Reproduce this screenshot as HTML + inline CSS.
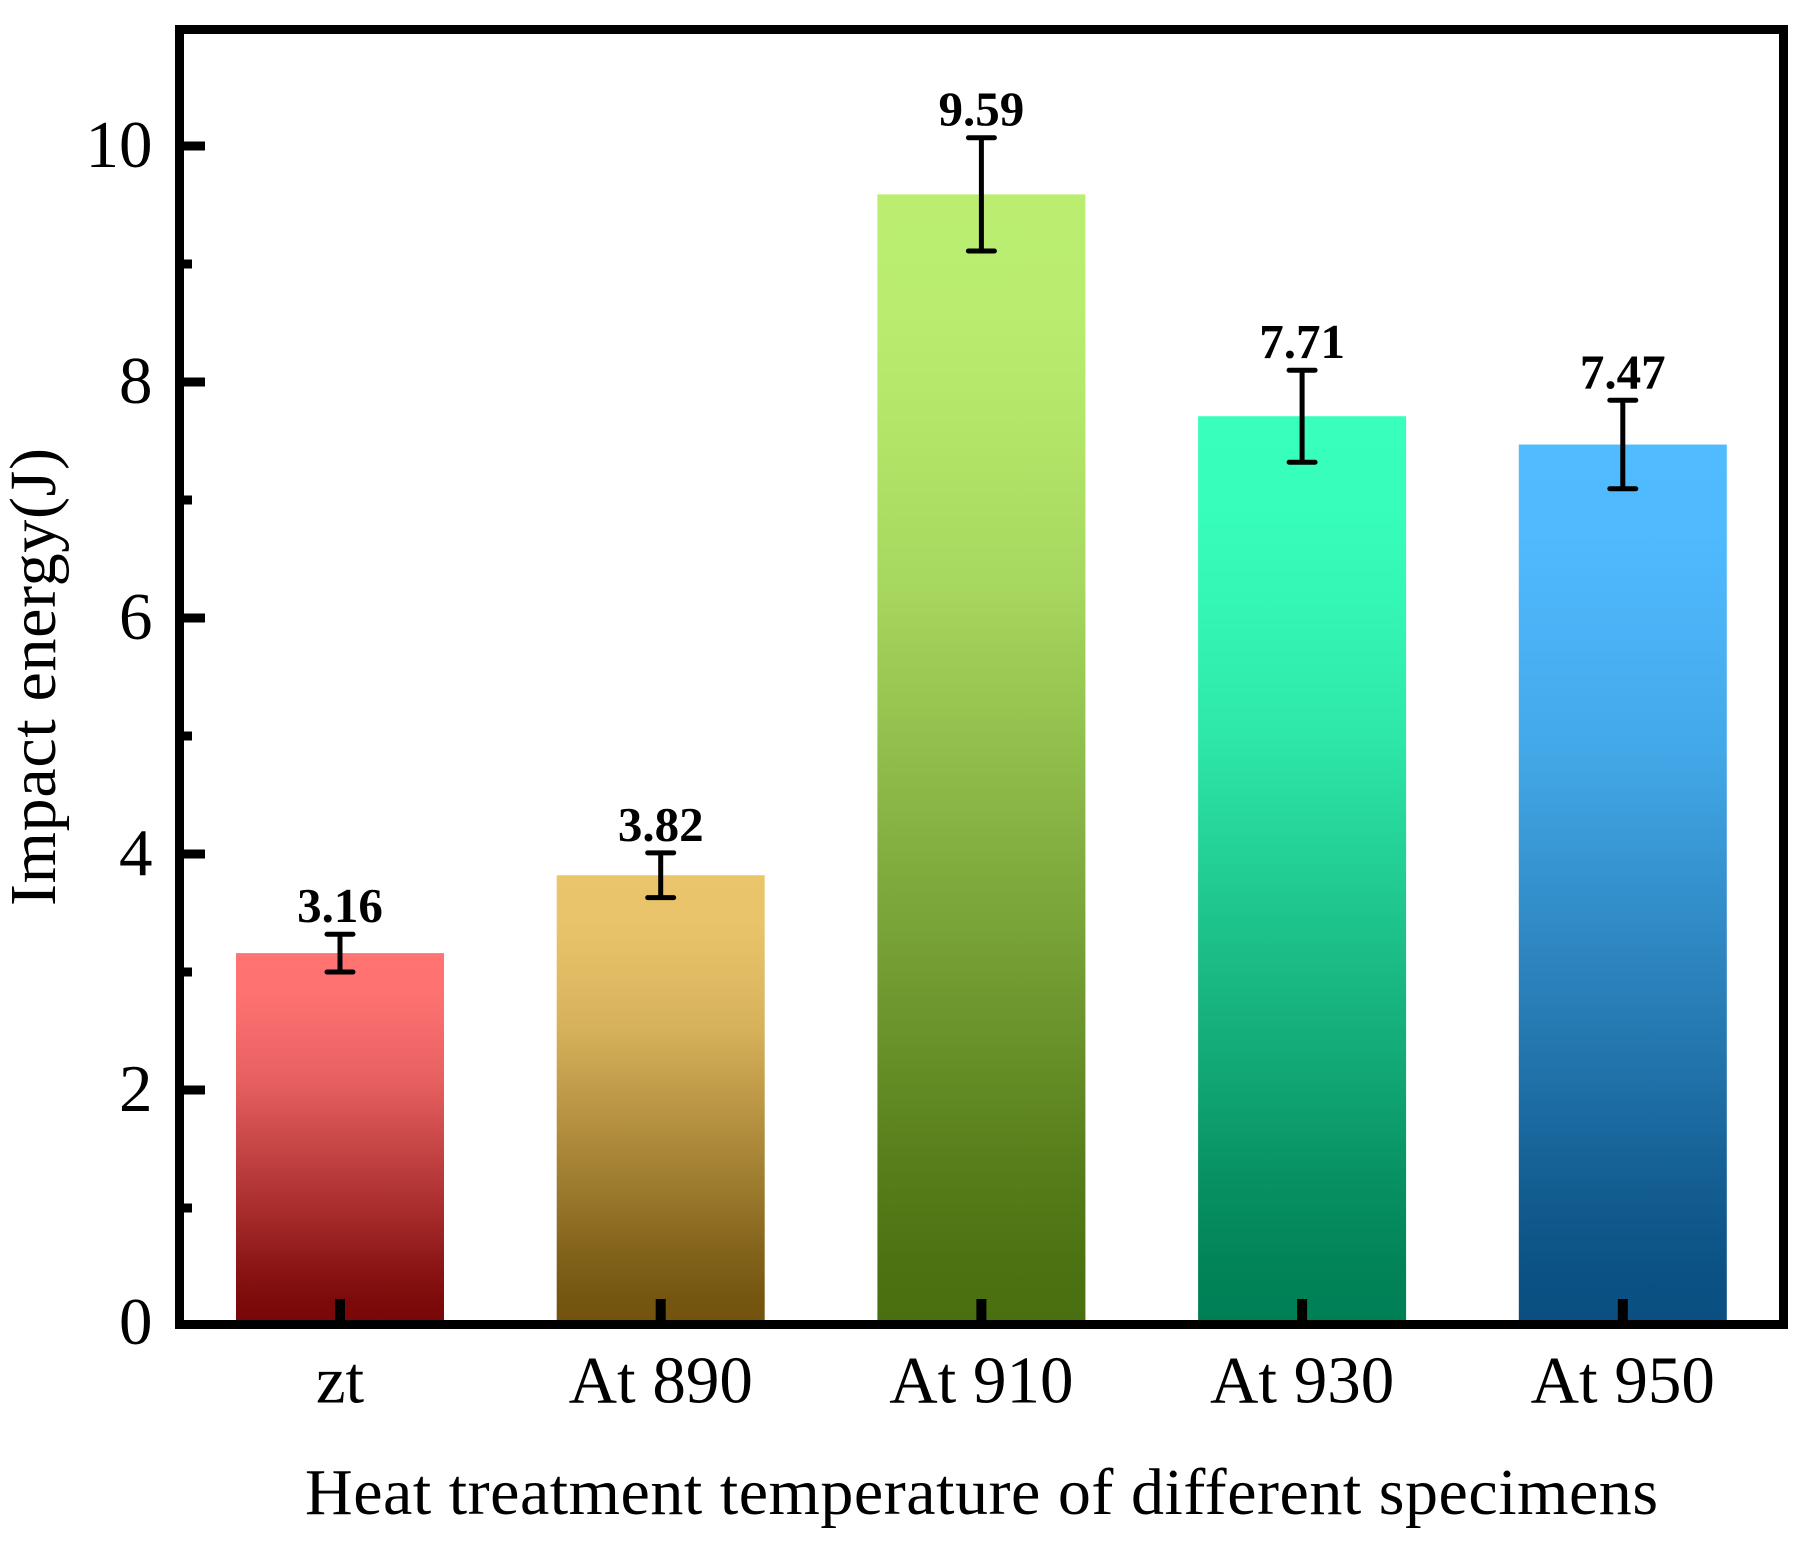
<!DOCTYPE html>
<html lang="en">
<head>
<meta charset="utf-8">
<title>Impact energy by heat treatment temperature</title>
<style>
html,body{margin:0;padding:0;background:#fff;}
svg{display:block;}
text{font-family:"Liberation Serif",serif;fill:#000;}
.tick-label{font-size:67px;}
.value-label{font-size:49px;font-weight:bold;}
.axis-title{font-size:66px;}
</style>
</head>
<body>
<svg id="chart" xmlns="http://www.w3.org/2000/svg" width="1811" height="1552" viewBox="0 0 1811 1552">
  <defs id="defs"></defs>
  <rect x="0" y="0" width="1811" height="1552" fill="#fff"></rect>
  <g id="bars"></g>
  <g id="errors"></g>
  <g id="values"></g>
  <g id="axes"></g>
  <text class="axis-title" x="981.5" y="1514" text-anchor="middle" textLength="1353" lengthAdjust="spacing">Heat treatment temperature of different specimens</text>
  <text class="axis-title" transform="translate(55,677) rotate(-90)" text-anchor="middle" textLength="458" lengthAdjust="spacing">Impact energy(J)</text>
</svg>
<script>
const categories = ['zt', 'At 890', 'At 910', 'At 930', 'At 950'];
const impactValues = [3.16, 3.82, 9.59, 7.71, 7.47];
const errorValues = [0.16, 0.19, 0.48, 0.39, 0.375];
const yMajorTicks = [0, 2, 4, 6, 8, 10];
const yMinorTicks = [1, 3, 5, 7, 9];
const barTopColors = ['#FF7373', '#EBC56B', '#BBEE70', '#38FFBC', '#50BBFF'];
const barBottomColors = ['#7A0808', '#73540F', '#4A6F10', '#007F55', '#0A4F80'];

const NS = 'http://www.w3.org/2000/svg';
const plot = { left: 175, right: 1788, top: 25, bottom: 1329 };
const spine = 9;
const bandStart = 340;
const bandStep = 320.7;
const barWidth = 208;
const innerBottom = plot.bottom - spine;
const yZero = 1326;
const yUnit = 118;

function xScale(index) { return bandStart + index * bandStep; }
function yScale(value) { return yZero - value * yUnit; }
function make(tag, attrs, parent) {
  const el = document.createElementNS(NS, tag);
  for (const key in attrs) el.setAttribute(key, attrs[key]);
  parent.appendChild(el);
  return el;
}
function mixHex(a, b, t) {
  const pa = parseInt(a.slice(1), 16), pb = parseInt(b.slice(1), 16);
  const ch = s => Math.round(((pa >> s) & 255) * (1 - t) + ((pb >> s) & 255) * t);
  return 'rgb(' + ch(16) + ',' + ch(8) + ',' + ch(0) + ')';
}

const defs = document.getElementById('defs');
const barsG = document.getElementById('bars');
const errorsG = document.getElementById('errors');
const valuesG = document.getElementById('values');
const axesG = document.getElementById('axes');
const curve = [[0, 0], [0.1, 0.01], [0.22, 0.08], [0.35, 0.18], [0.49, 0.37], [0.6, 0.52], [0.72, 0.68], [0.85, 0.87], [0.95, 0.98], [1, 1]];

categories.forEach(function (name, i) {
  const grad = make('linearGradient', { id: 'grad-' + i, x1: 0, y1: 0, x2: 0, y2: 1 }, defs);
  curve.forEach(function (stop) {
    make('stop', { offset: stop[0], 'stop-color': mixHex(barTopColors[i], barBottomColors[i], stop[1]) }, grad);
  });
  const cx = xScale(i);
  const top = yScale(impactValues[i]);
  const bar = make('rect', { x: cx - barWidth / 2, y: top, width: barWidth, height: innerBottom - top, fill: 'url(#grad-' + i + ')' }, barsG);
  
  

  const hi = yScale(impactValues[i] + errorValues[i]);
  const lo = yScale(impactValues[i] - errorValues[i]);
  const err = make('path', {
    d: 'M' + (cx - 13) + ' ' + hi + 'H' + (cx + 13) + 'M' + cx + ' ' + hi + 'V' + lo + 'M' + (cx - 13) + ' ' + lo + 'H' + (cx + 13),
    stroke: '#000', 'stroke-width': 5, 'stroke-linecap': 'round', fill: 'none'
  }, errorsG);
  
  

  const label = make('text', { x: cx, y: hi - 12, 'text-anchor': 'middle', class: 'value-label' }, valuesG);
  label.textContent = impactValues[i].toFixed(2);
  
  

  const tick = make('rect', { x: cx - 5, y: innerBottom - 21, width: 10, height: 21, fill: '#000' }, axesG);
  
  

  const tickText = make('text', { x: cx, y: 1402.5, 'text-anchor': 'middle', class: 'tick-label' }, axesG);
  tickText.textContent = name;
  
  
});

yMajorTicks.forEach(function (value) {
  const y = yScale(value);
  if (value > 0) {
    const tick = make('rect', { x: plot.left + spine, y: y - 4.5, width: 21, height: 9, fill: '#000' }, axesG);
    
    
  }
  const text = make('text', { x: 152.5, y: y + (value === 0 ? 18 : 21), 'text-anchor': 'end', class: 'tick-label' }, axesG);
  text.textContent = String(value);
  
  
});

yMinorTicks.forEach(function (value) {
  const tick = make('rect', { x: plot.left + spine, y: yScale(value) - 4.5, width: 8, height: 9, fill: '#000' }, axesG);
  
  
});

const frame = make('rect', {
  x: plot.left + spine / 2, y: plot.top + spine / 2,
  width: plot.right - plot.left - spine, height: plot.bottom - plot.top - spine,
  fill: 'none', stroke: '#000', 'stroke-width': spine
}, axesG);


</script>
</body>
</html>
